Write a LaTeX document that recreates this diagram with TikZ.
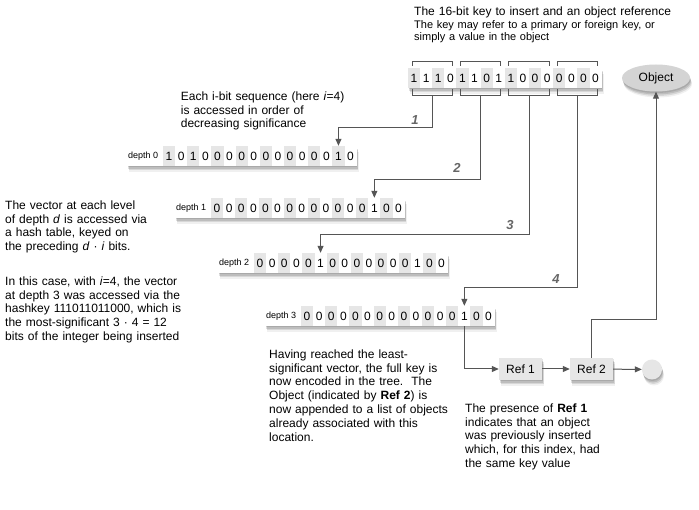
\documentclass[tikz,border=0pt]{standalone}
\usepackage{fontspec}
\setmainfont{Liberation Sans}
\usetikzlibrary{shadows,arrows.meta,calc,shapes.geometric}
\definecolor{linegray}{HTML}{555555}
\definecolor{cellgray}{HTML}{E6E6E6}
\definecolor{refgray}{HTML}{E6E6E6}
\definecolor{objgray}{HTML}{D4D4D4}
\definecolor{numgray}{HTML}{666666}
\newcommand\cw{12.1}
\newcommand\bitrow[6]{%
  \fill[white,softshadow] (#2,#3-10) rectangle (#2+#4+16*\cw,#3+10);
  \ifx&#5&\else\node[lbl,anchor=west] (#1-lbl) at (#2+1,#3) {#5};\fi
  \foreach \b [count=\i from 0] in {#6}{%
    \ifodd\i \def\cf{white}\else\def\cf{cellgray}\fi
    \node[cell,fill=\cf] (#1-\i) at (#2+#4+\cw*\i+\cw/2,#3) {\b};
  }%
}
\begin{document}
\begin{tikzpicture}[x=1pt,y=-1pt,
  softshadow/.style={
    general shadow={fill=black,opacity=.10,shadow xshift=0.5pt,shadow yshift=-1.5pt},
    general shadow={fill=black,opacity=.12,shadow xshift=1pt,shadow yshift=-3pt},
    general shadow={fill=black,opacity=.10,shadow xshift=1.5pt,shadow yshift=-4.5pt},
    general shadow={fill=black,opacity=.06,shadow xshift=2pt,shadow yshift=-6pt}},
  cell/.style={inner sep=0pt,minimum width=\cw pt,minimum height=20pt,
    font=\fontsize{12}{14}\selectfont},
  lbl/.style={inner sep=0pt,font=\fontsize{9}{10}\selectfont},
  brk/.style={draw=linegray,line width=0.8pt},
  conn/.style={draw=linegray,line width=1pt,-{Triangle[length=7pt,width=6pt]}},
  num/.style={inner sep=0pt,text=numgray,font=\fontsize{13}{15}\selectfont\bfseries\itshape},
  txt/.style={inner sep=0pt,anchor=north west,align=left,text width=235pt,
    font=\fontsize{12}{13.8}\selectfont},
  refbox/.style={fill=refgray,minimum width=43pt,minimum height=22pt,inner sep=0pt,
    font=\fontsize{12}{14}\selectfont,softshadow},
]
\useasboundingbox (0,0) rectangle (699,510);
\fill[white] (0,0) rectangle (699,510);

% texts
\node[txt,text width=285pt,font=\fontsize{12}{14}\selectfont] (title) at (414,6.5)
  {The 16-bit key to insert and an object reference};
\node[txt,text width=285pt,font=\fontsize{11}{12}\selectfont] (subtitle) at (414,20.7)
  {The key may refer to a primary or foreign key, or\\simply a value in the object};
\node[txt] (each) at (180.7,91.5)
  {Each i-bit sequence (here \textit{i}=4)\\is accessed in order of\\decreasing significance};
\node[txt] (left1) at (5,200.5)
  {The vector at each level\\of depth \textit{d} is accessed via\\a hash table, keyed on\\the preceding \textit{d} · \textit{i} bits.};
\node[txt] (left2) at (5,276.5)
  {In this case, with \textit{i}=4, the vector\\at depth 3 was accessed via the\\hashkey 111011011000, which is\\the most-significant 3 · 4 = 12\\bits of the integer being inserted};
\node[txt] (having) at (269,349.5)
  {Having reached the least-\\significant vector, the full key is\\now encoded in the tree.\ \ The\\Object (indicated by \textbf{Ref 2}) is\\now appended to a list of objects\\already associated with this\\location.};
\node[txt,text width=230pt] (presence) at (465,403.5)
  {The presence of \textbf{Ref 1}\\indicates that an object\\was previously inserted\\which, for this index, had\\the same key value};

% key row and depth rows
\bitrow{key}{408}{78}{0}{}{1,1,1,0,1,1,0,1,1,0,0,0,0,0,0,0}
\bitrow{d0}{127}{156}{36}{depth 0}{1,0,1,0,0,0,0,0,0,0,0,0,0,0,1,0}
\bitrow{d1}{175}{208}{36}{depth 1}{0,0,0,0,0,0,0,0,0,0,0,0,0,1,0,0}
\bitrow{d2}{218}{263}{36}{depth 2}{0,0,0,0,0,1,0,0,0,0,0,0,0,1,0,0}
\bitrow{d3}{265}{316}{36}{depth 3}{0,0,0,0,0,0,0,0,0,0,0,0,0,1,0,0}

% brackets
\foreach \k in {0,...,3}{
  \draw[brk] (408+4*\cw*\k+4,66) -- (408+4*\cw*\k+4,61) -- (408+4*\cw*\k+4*\cw-4,61) -- (408+4*\cw*\k+4*\cw-4,66);
  \draw[brk] (408+4*\cw*\k+4,89) -- (408+4*\cw*\k+4,95) -- (408+4*\cw*\k+4*\cw-4,95) -- (408+4*\cw*\k+4*\cw-4,89);
  \coordinate (s\k) at (408+4*\cw*\k+2*\cw,95);
}

% object
\node[ellipse,fill=objgray,minimum width=68pt,minimum height=27pt,inner sep=0pt,
  font=\fontsize{12}{14}\selectfont,softshadow] (obj) at (656,78) {Object};

% connectors from key groups
\draw[conn] (s0) -- ++(0,33) -| (d0-14.north);
\draw[conn] (s1) -- ++(0,85) -| (d1-13.north);
\draw[conn] (s2) -- ++(0,140) -| (d2-5.north);
\draw[conn] (s3) -- ++(0,193) -| (d3-13.north);
\node[num] (n1) at (415,120) {1};
\node[num] (n2) at (457,168) {2};
\node[num] (n3) at (510,225) {3};
\node[num] (n4) at (556,279) {4};

% refs
\node[refbox] (ref1) at (520.5,369) {Ref 1};
\node[refbox] (ref2) at (591.5,369) {Ref 2};
\node[circle,fill=refgray,minimum size=20pt,inner sep=0pt,softshadow] (end) at (652,369.5) {};
\draw[conn] (d3-13.south) |- (ref1.west);
\draw[conn] (ref1) -- (ref2);
\draw[conn] (ref2) -- (end);
\draw[conn] (ref2.north) -- ++(0,-38) -| (obj.south);
\end{tikzpicture}
\end{document}
